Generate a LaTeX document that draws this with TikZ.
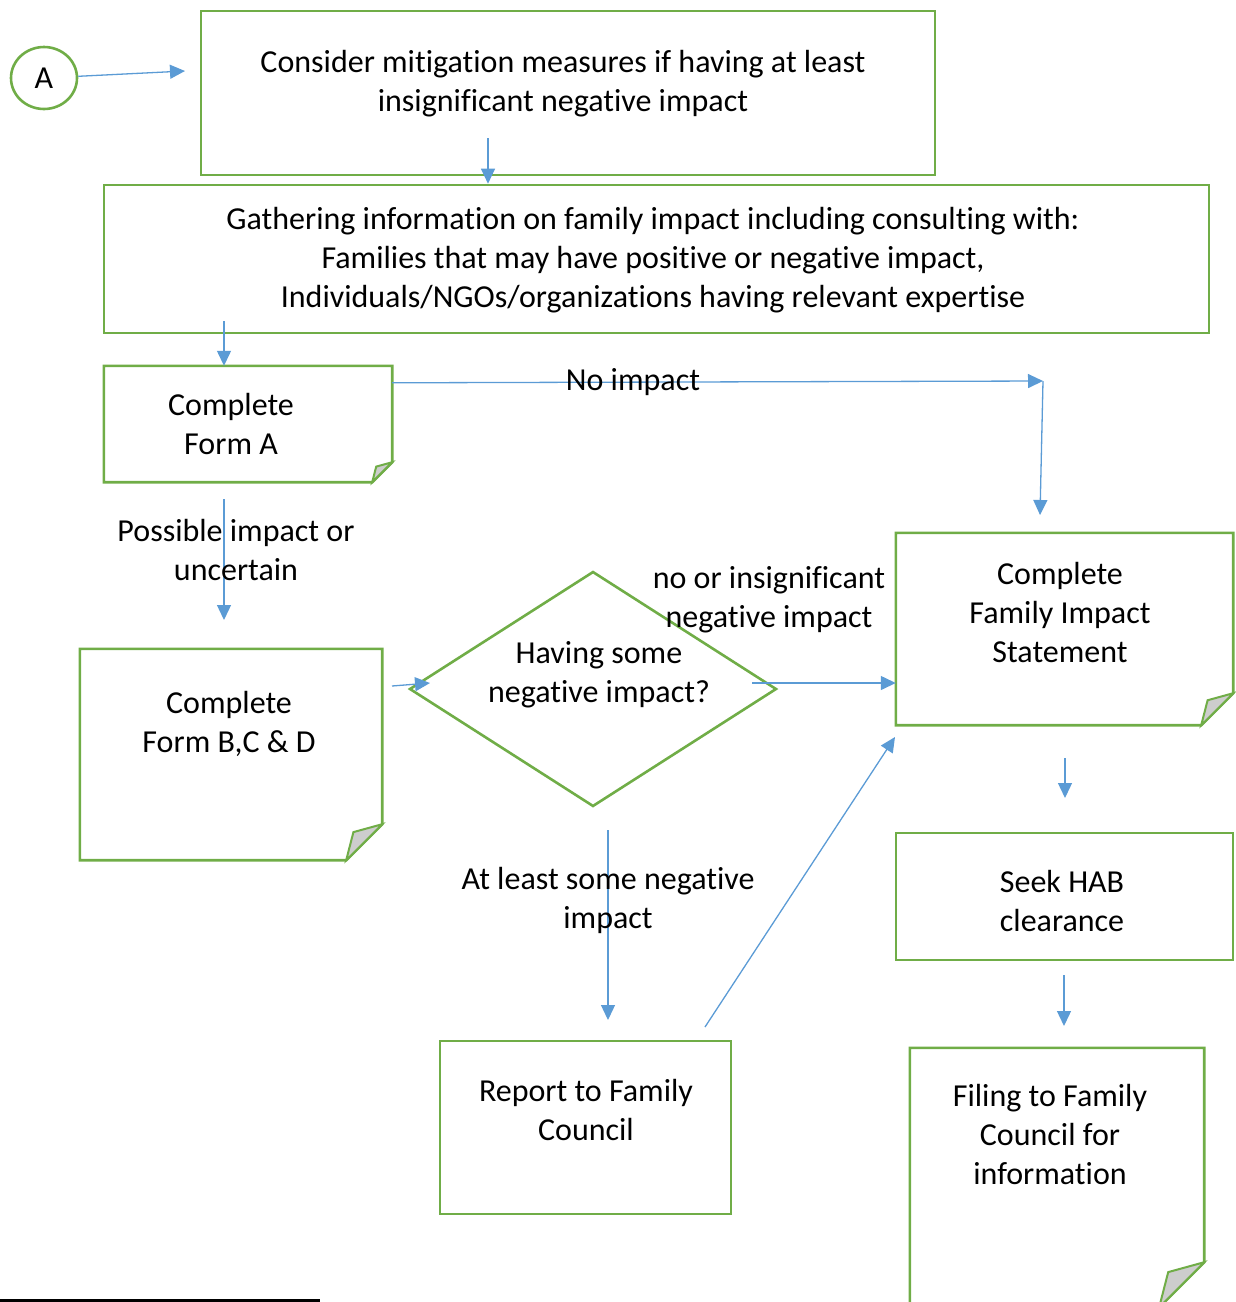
\documentclass[tikz,border=0pt]{standalone}
\usepackage{fontspec}
\setmainfont{Carlito}[RawFeature=-liga]
\definecolor{boxgreen}{RGB}{112,173,71}
\definecolor{flowblue}{RGB}{91,155,213}
\definecolor{foldgray}{RGB}{205,205,205}
\usetikzlibrary{arrows.meta,shapes.geometric,calc}
\tikzset{
  boxline/.style={draw=boxgreen,line width=2.6pt},
  card/.style={rectangle,inner sep=0pt},
  txt/.style={align=center,inner sep=0pt,font=\fontsize{32}{39}\selectfont},
  flow/.style={draw=flowblue,line width=1.3pt,-{Triangle[length=15pt,width=14pt]}}
}
\newcommand\foldcard[2]{%
  \draw[boxline] (#1.north west) -- (#1.north east) -- ([yshift=#2pt]#1.south east)
    -- ([xshift=-#2pt]#1.south east) -- (#1.south west) -- cycle;
  \draw[boxline,line width=2pt,fill=foldgray] ([yshift=#2pt]#1.south east) -- ([xshift=-#2pt]#1.south east)
    -- ([xshift=-0.8*#2pt,yshift=0.78*#2pt]#1.south east) -- cycle;}

\begin{document}
\begin{tikzpicture}[x=1pt,y=-1pt]
        \useasboundingbox (0,0) rectangle (1236,1302);
        \node[ellipse,boxline,minimum width=66pt,minimum height=62pt,txt] (a) at (44,78){A};
        % boxes
        \node[card,boxline,minimum width=734pt,minimum height=164pt] (mitig) at (568,93){};
        \node[card,boxline,minimum width=1105pt,minimum height=148pt] (gather) at (656.5,259){};
        \node[card,minimum width=288pt,minimum height=116pt] (formA) at (248,424){}; \foldcard{formA}{20}
        \node[card,minimum width=302pt,minimum height=211pt] (formBCD) at (231,754.5){}; \foldcard{formBCD}{36}
        \node[diamond,boxline,inner sep=0pt,minimum width=367pt,minimum height=235pt] (neg) at (593,689){};
        \node[card,minimum width=337pt,minimum height=192pt] (fis) at (1064.5,629){}; \foldcard{fis}{32}
        \node[card,boxline,minimum width=337pt,minimum height=127pt] (hab) at (1064.5,896.5){};
        \node[card,boxline,minimum width=291pt,minimum height=173pt] (report) at (585.5,1127.5){};
        \node[card,minimum width=294pt,minimum height=259pt] (filing) at (1057,1177.5){}; \foldcard{filing}{45}
        % texts
        \node[txt] (mitig-t) at (563,84){Consider mitigation measures if having at least\\insignificant negative impact};
        \node[txt] (gather-t) at (653,260){Gathering information on family impact including consulting with:\\Families that may have positive or negative impact,\\Individuals/NGOs/organizations having relevant expertise};
        \node[txt] (formA-t) at (231,423.5){Complete\\Form A};
        \node[txt] (formBCD-t) at (229,723.5){Complete\\Form B,C \& D};
        \node[txt] (neg-t) at (599,674.5){Having some\\negative impact?};
        \node[txt] (fis-t) at (1060,612.5){Complete\\Family Impact\\Statement};
        \node[txt] (hab-t) at (1062,900.5){Seek HAB\\clearance};
        \node[txt] (report-t) at (586,1110){Report to Family\\Council};
        \node[txt] (filing-t) at (1050,1134){Filing to Family\\Council for\\information};
        % connectors
        \coordinate (a1) at (185,71);
        \coordinate (m1) at (488,138);
        \coordinate (g1) at (224,321);
        \coordinate (c1) at (1043,381);
        \coordinate (c2) at (1040,515);
        \coordinate (p1) at (224,499);
        \coordinate (p2) at (224,620);
        \coordinate (b1) at (392,686);
        \coordinate (b2) at (430,683);
        \coordinate (d1) at (752,683);
        \coordinate (d2) at (608,830);
        \coordinate (d3) at (608,1020);
        \coordinate (r1) at (705,1027);
        \coordinate (r2) at (895,737);
        \coordinate (f1) at (1065,758);
        \coordinate (f2) at (1065,798);
        \coordinate (h1) at (1064,975);
        \coordinate (h2) at (1064,1026);
        \draw[flow] (a) -- (a1);
        \draw[flow] (m1) -- (m1 |- gather.north);
        \draw[flow] (g1) -- (g1 |- formA.north);
        \draw[flow] ([yshift=-17pt]formA.north east) -- (c1);
        \draw[flow] (c1) -- (c2);
        \draw[flow] (p1) -- (p2);
        \draw[flow] (b1) -- (b2);
        \draw[flow] (d1) -- (d1 -| fis.west);
        \draw[flow] (d2) -- (d3);
        \draw[flow] (r1) -- (r2);
        \draw[flow] (f1) -- (f2);
        \draw[flow] (h1) -- (h2);
        % labels
        \node[txt] (noimp) at (633,382){No impact};
        \node[txt] (poss) at (236,550){Possible impact or\\uncertain};
        \node[txt] (noins) at (769,600){no or insignificant\\negative impact};
        \node[txt] (least) at (608,900){At least some negative\\impact};
        \draw[line width=3pt] (0,1300) -- (320,1300);
      \end{tikzpicture}
\end{document}
